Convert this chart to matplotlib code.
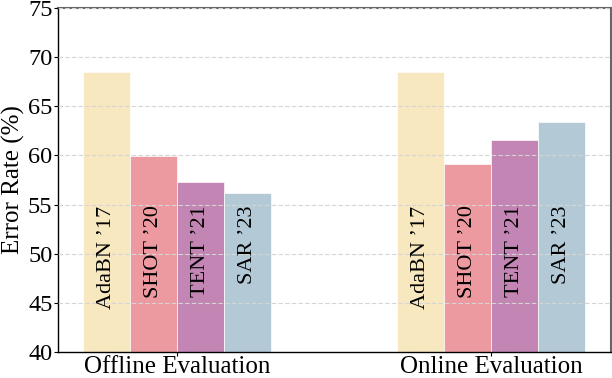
import matplotlib
matplotlib.use("Agg")
import matplotlib.pyplot as plt
import numpy as np

groups = ["Offline Evaluation", "Online Evaluation"]
methods = ["AdaBN \u201917", "SHOT \u201920", "TENT \u201921", "SAR \u201923"]
offline = [68.5, 59.9, 57.3, 56.2]
online = [68.5, 59.1, 61.6, 63.4]
colors = ["#F7E7BD", "#EB959B", "#BF7EB0", "#AFC8D4"]
yticks = [40, 45, 50, 55, 60, 65, 70, 75]

plt.rcParams['font.family'] = ['Liberation Serif', 'DejaVu Serif']
plt.rcParams['mathtext.fontset'] = 'stix'

fig = plt.figure(figsize=(6.12, 3.78), dpi=100)
ax = fig.add_axes([58/612, 1-352/378, (611-58)/612, (352-8)/378])

x = np.arange(len(groups))
w = 0.15
data = [offline, online]
for i, m in enumerate(methods):
    vals = [d[i] for d in data]
    pos = x + (i - 1.5) * w
    ax.bar(pos, [v - 40 for v in vals], bottom=40, width=w, color=colors[i],
           edgecolor='white', linewidth=0.5, zorder=2, alpha=0.95)
    for p in pos:
        ax.text(p, 54.9, m, rotation=90, ha='center', va='top', fontsize=16,
                color='black', zorder=4)

ax.set_ylim(40, 75)
ax.set_xlim(-0.379, 1.382)
ax.set_yticks(yticks)
ax.set_xticks(x)
ax.set_xticklabels(groups, fontsize=18)
ax.tick_params(axis='y', labelsize=17.5, length=3, pad=1)
ax.tick_params(axis='x', length=3, pad=0)
ax.set_ylabel("Error Rate (%)", fontsize=18, labelpad=2)
ax.yaxis.grid(True, linestyle=(0, (4, 2)), color='#d5d5d5', linewidth=0.8, zorder=3)
ax.set_axisbelow(False)
for s in ['top', 'right']:
    ax.spines[s].set_color('#666666')
    ax.spines[s].set_linewidth(1.5)
for s in ['left', 'bottom']:
    ax.spines[s].set_color('black')
    ax.spines[s].set_linewidth(1.0)

fig.savefig("out.png", dpi=100)
